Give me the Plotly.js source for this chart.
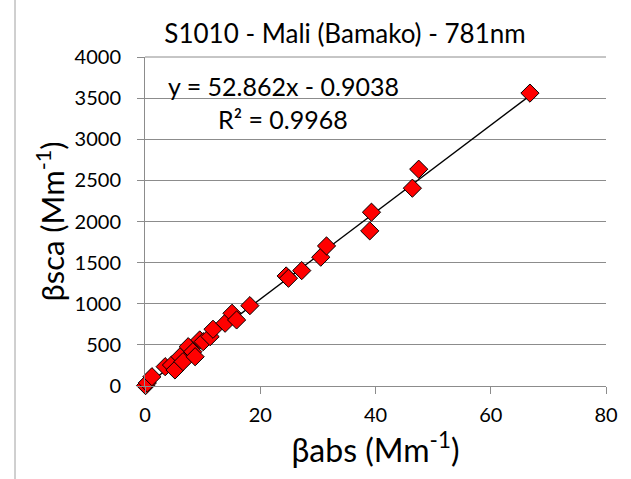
<!DOCTYPE html>
<html>
<head>
<meta charset="utf-8">
<script src="https://cdn.plot.ly/plotly-3.0.1.min.js"></script>
<style>html,body{margin:0;padding:0;background:#fff;}#chart{width:631px;height:479px;}</style>
</head>
<body>
<div id="chart"></div>
<script>
// Data
const babs = [0.1, 0.4, 1.2, 3.5, 4.6, 5.2, 6.1, 6.6, 7.5, 8.3, 8.7, 9.5, 10.1, 11.3, 11.8, 13.9, 15.1, 15.9, 18.2, 24.5, 24.9, 27.2, 30.5, 31.5, 39.0, 39.3, 46.4, 47.5, 66.8];
const bsca = [5, 37, 113, 235, 255, 195, 356, 296, 478, 417, 356, 560, 539, 600, 690, 763, 884, 803, 977, 1338, 1310, 1403, 1566, 1703, 1886, 2113, 2405, 2636, 3561];
const slope = 52.862;
const intercept = -0.9038;
const r2 = 0.9968;
const xTicks = [0, 20, 40, 60, 80];
const yTicks = [0, 500, 1000, 1500, 2000, 2500, 3000, 3500, 4000];

const xMin = Math.min(...babs), xMax = Math.max(...babs);
const fitX = [xMin, xMax];
const fitY = fitX.map(v => slope * v + intercept);

const FONT = 'Lato, "Open Sans", sans-serif';
const W = 631, L = 145, R = 25;
const pw = W - L - R;
const px = v => (v - L) / pw;

const traces = [
  {x: fitX, y: fitY, mode: 'lines', type: 'scatter', line: {color: '#000', width: 1.3}, hoverinfo: 'skip', showlegend: false, cliponaxis: false},
  {x: babs, y: bsca, mode: 'markers', type: 'scatter', showlegend: false, cliponaxis: false,
   marker: {symbol: 'diamond', size: 14, color: '#ff0000', line: {color: '#000', width: 1}}}
];

const layout = {
  width: 631, height: 479,
  margin: {l: L, r: R, t: 57, b: 93},
  paper_bgcolor: '#fff', plot_bgcolor: '#fff',
  font: {family: FONT, color: '#000'},
  showlegend: false,
  title: {text: 'S1010 - Mali (Bamako) - 781nm', font: {family: FONT, size: 26, color: '#000'},
          x: px(345), xref: 'paper', xanchor: 'center', y: 0.929, yref: 'container', yanchor: 'middle'},
  xaxis: {range: [0, 80], tickvals: xTicks, ticktext: xTicks.map(String), showgrid: false, zeroline: false,
          showline: true, linecolor: '#8c8c8c', linewidth: 1, ticks: 'outside', ticklen: 7, tickcolor: '#8c8c8c',
          ticklabelstandoff: 4, automargin: false,
          tickfont: {family: FONT, size: 20, color: '#000'},
          title: {text: 'βabs (Mm<sup>-1</sup>)', font: {family: FONT, size: 32, color: '#000'}, standoff: 14}},
  yaxis: {range: [0, 4000], tickvals: yTicks, ticktext: yTicks.map(String), showgrid: true, gridcolor: '#8c8c8c', gridwidth: 1,
          zeroline: false, showline: true, linecolor: '#8c8c8c', linewidth: 1, ticks: 'outside', ticklen: 7, tickcolor: '#8c8c8c',
          ticklabelstandoff: 12, automargin: false,
          tickfont: {family: FONT, size: 20, color: '#000'},
          title: {text: 'βsca (Mm<sup>-1</sup>)', font: {family: FONT, size: 31, color: '#000'}, standoff: 0}},
  shapes: [
    {type: 'line', xref: 'paper', yref: 'paper', x0: px(15), x1: px(15), y0: -93/329, y1: 1 + 57/329, line: {color: '#a0a0a0', width: 1}},
    {type: 'line', xref: 'paper', yref: 'paper', x0: 0, x1: 1, y0: 1, y1: 1, line: {color: '#8c8c8c', width: 1}}
  ],
  annotations: [
    {text: 'y = ' + slope + 'x - ' + Math.abs(intercept), xref: 'paper', yref: 'paper', x: px(283), y: (386 - 86) / 329,
     xanchor: 'center', yanchor: 'middle', showarrow: false, font: {family: FONT, size: 25, color: '#000'}},
    {text: 'R² = ' + r2, xref: 'paper', yref: 'paper', x: px(283), y: (386 - 119) / 329,
     xanchor: 'center', yanchor: 'middle', showarrow: false, font: {family: FONT, size: 25, color: '#000'}}
  ]
};

Plotly.newPlot('chart', traces, layout, {displayModeBar: false, staticPlot: true});
</script>
</body>
</html>
